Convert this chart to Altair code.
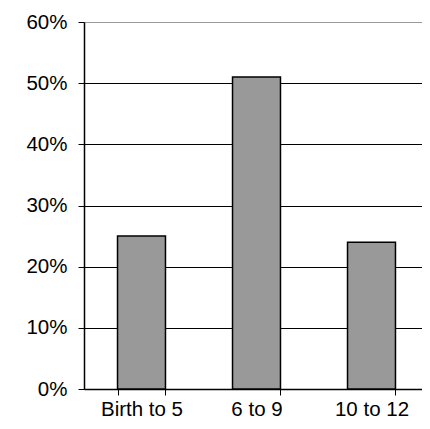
import altair as alt
import pandas as pd

categories = ["Birth to 5", "6 to 9", "10 to 12"]
values = [0.25, 0.51, 0.24]
y_ticks = [0.0, 0.1, 0.2, 0.3, 0.4, 0.5, 0.6]

df = pd.DataFrame({"cat": categories, "val": values})

FONT = "Liberation Sans"

bars = alt.Chart(df).mark_bar(
    color="#999999", stroke="black", strokeWidth=1.5
).encode(
    x=alt.X("cat:N", sort=categories, title=None,
            scale=alt.Scale(paddingInner=0.583, paddingOuter=0.2915, range=[0, 345]),
            axis=alt.Axis(labelAngle=0, tickBand="extent", tickSize=6,
                          domainColor="black", tickColor="black",
                          labelFontSize=20.5, labelColor="black", labelFont=FONT,
                          labelBaseline="alphabetic", labelPadding=20,
                          domainWidth=1.5)),
    y=alt.Y("val:Q", title=None,
            scale=alt.Scale(domain=[0, 0.6], nice=False),
            axis=alt.Axis(values=y_ticks, format=".0%", tickSize=6,
                          grid=True,
                          gridColor=alt.condition("datum.value >= 0.59", alt.value("#999999"), alt.value("black")),
                          gridWidth=1,
                          domainColor="black", tickColor="black", domainWidth=1.5,
                          labelFontSize=20.5, labelColor="black", labelFont=FONT,
                          labelPadding=11)),
)

chart = bars.properties(
    width=338, height=367,
    autosize=alt.AutoSizeParams(type="none"),
    padding={"left": 76, "top": 14, "right": 0, "bottom": 32},
).configure_view(
    stroke="#999999", strokeWidth=2
).configure(background="white")

chart.save("out.html", embed_options={"renderer": "svg", "actions": False})
